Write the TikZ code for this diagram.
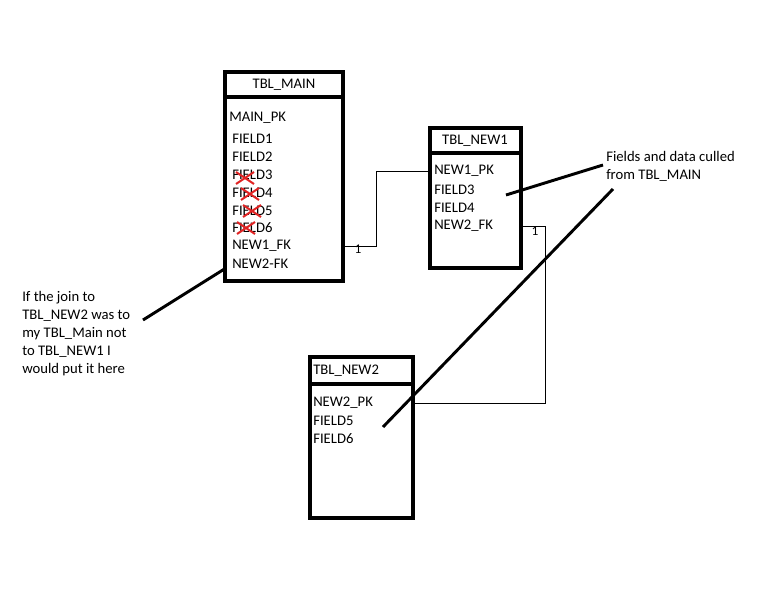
\documentclass[tikz,border=0pt]{standalone}
\usepackage{fontspec}
\setmainfont{Carlito}
\usetikzlibrary{fit}

\definecolor{strikered}{RGB}{225,35,35}

\begin{document}
\begin{tikzpicture}[x=0.75pt,y=-0.75pt,
    tbl/.style={draw,line width=3.4pt,inner sep=0pt},
    fld/.style={anchor=west,inner sep=0pt},
    link/.style={line width=0.75pt},
    note/.style={line width=2.2pt},
    card/.style={inner sep=0pt,font=\fontsize{10}{11}\selectfont}]
\useasboundingbox (0,0) rectangle (768,614);

\begin{scope}[font=\fontsize{11}{13.5}\selectfont]
% tables
\node[tbl,fit={(225,72) (343,281)}] (main) {};
\node[tbl,fit={(225,72) (343,97)}] (main_head) {};
\node[inner sep=0pt] (main_title) at (284,85) {TBL\_MAIN};
\node[tbl,fit={(430,128) (521,268)}] (new1) {};
\node[tbl,fit={(430,128) (521,153)}] (new1_head) {};
\node[inner sep=0pt] (new1_title) at (475,141) {TBL\_NEW1};
\node[tbl,fit={(310,357) (413,518)}] (new2) {};
\node[tbl,fit={(310,357) (413,384)}] (new2_head) {};
\node[fld] (new2_title) at (313,371) {TBL\_NEW2};

% fields
\node[fld] (main_pk) at (229,118) {MAIN\_PK};
\node[fld] (main_f1) at (232,139) {FIELD1};
\node[fld] (main_f2) at (232,157) {FIELD2};
\node[fld] (main_f3) at (232,175) {FIELD3};
\node[fld] (main_f4) at (232,193) {FIELD4};
\node[fld] (main_f5) at (232,211) {FIELD5};
\node[fld] (main_f6) at (232,228) {FIELD6};
\node[fld] (main_fk1) at (232,246) {NEW1\_FK};
\node[fld] (main_fk2) at (232,264) {NEW2-FK};

\node[fld] (new1_pk) at (434,171) {NEW1\_PK};
\node[fld] (new1_f3) at (434,190) {FIELD3};
\node[fld] (new1_f4) at (434,208) {FIELD4};
\node[fld] (new1_fk2) at (434,226) {NEW2\_FK};

\node[fld] (new2_pk) at (313,403) {NEW2\_PK};
\node[fld] (new2_f5) at (313,421) {FIELD5};
\node[fld] (new2_f6) at (313,439) {FIELD6};

% notes
\node[fld,align=left] (main_note) at (22,334) {If the join to\\TBL\_NEW2 was to\\my TBL\_Main not\\to TBL\_NEW1 I\\would put it here};
\node[fld,align=left] (cull_note) at (606,166) {Fields and data culled\\from TBL\_MAIN};
\end{scope}

% crossed out fields
\foreach \cx/\cy in {245/178,250/194,252/211,246/228}
    \draw[strikered,line width=1.5pt] ({\cx-9},{\cy-6}) -- ({\cx+9},{\cy+6})
        ({\cx-9},{\cy+6}) -- ({\cx+9},{\cy-6});

% joins
\coordinate (bend1) at (376,171);
\coordinate (bend2) at (545,403);
\draw[link] (main.east |- main_fk1) -| (bend1) -- (new1.west |- bend1);
\draw[link] (new1.east |- new1_fk2) -| (bend2) -- (new2.east |- bend2);
\node[card] at (358,249) {1};
\node[card] at (535,231) {1};

% pointers
\coordinate (main_tip) at (226,268);
\coordinate (cull_tip) at (506,195);
\coordinate (new2_tip) at (383,427);
\draw[note] (143,320) coordinate (main_tail) -- (main_tip);
\draw[note] (603,165) coordinate (cull_tail1) -- (cull_tip);
\draw[note] (613,189) coordinate (cull_tail2) -- (new2_tip);
\end{tikzpicture}
\end{document}
